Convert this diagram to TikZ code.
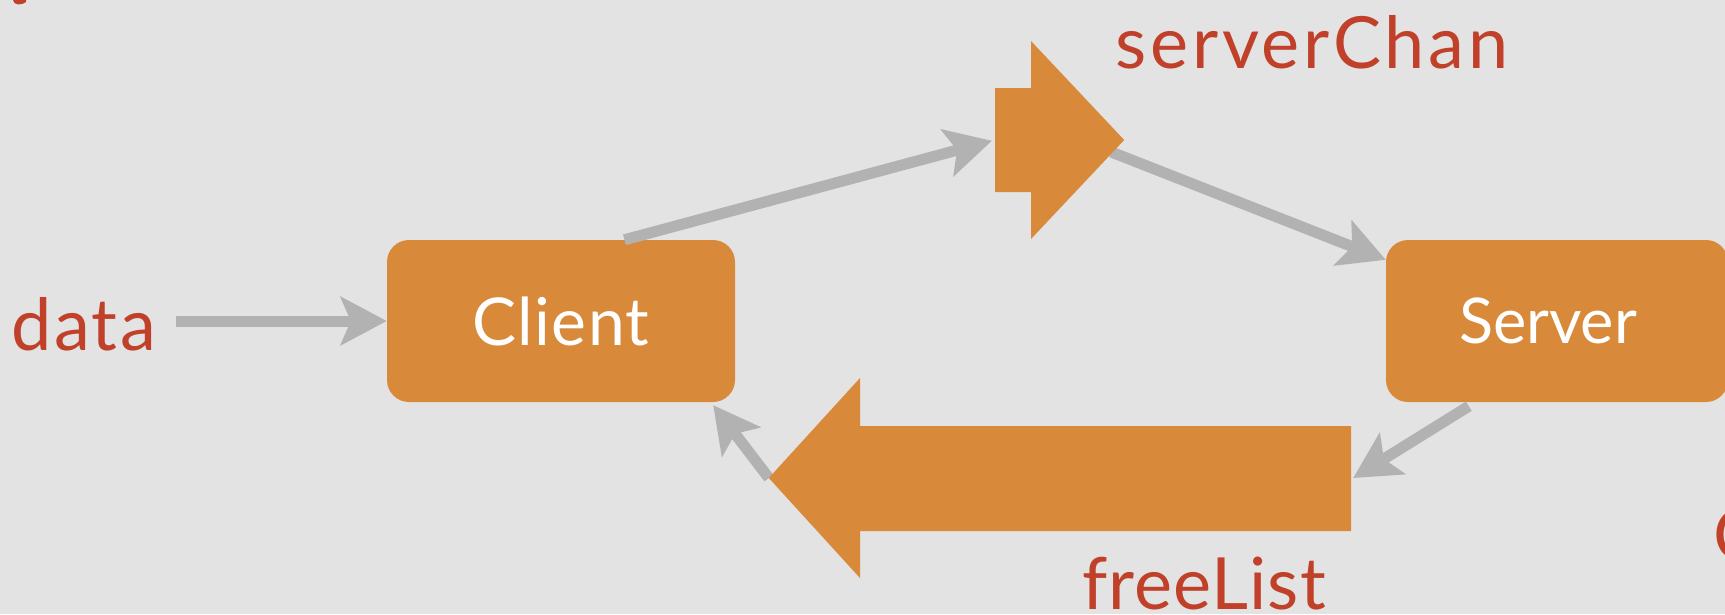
\documentclass[tikz,border=0pt]{standalone}
\usepackage{fontspec}
\setmainfont{Lato}
\usetikzlibrary{arrows.meta,calc}
\definecolor{bgc}{RGB}{227,227,227}
\definecolor{orc}{RGB}{216,137,58}
\definecolor{redc}{RGB}{192,64,42}
\definecolor{greyc}{RGB}{178,178,178}
\begin{document}
\begin{tikzpicture}[x=1pt,y=1pt,
  box/.style={fill=orc, rounded corners=22pt, minimum height=162pt, inner sep=0pt, text=white},
  lbl/.style={text=redc, inner sep=0pt},
  conn/.style={draw=greyc, line width=11pt, -{Stealth[length=46pt,width=48pt,inset=10pt]}},
  shp/.style={fill=orc},
  ghost/.style={inner sep=0pt, draw=none}]
\fill[bgc] (0,0) rectangle (1725,-614);
\useasboundingbox (0,0) rectangle (1725,-614);
% nodes
\node[box, minimum width=348pt, font=\fontsize{66}{66}\selectfont\addfontfeature{LetterSpace=2}] (client) at (561,-321) {\raisebox{-2pt}{Client}};
\node[box, minimum width=342pt, font=\fontsize{63}{63}\selectfont] (server) at (1557,-321) {\hspace*{-18pt}\raisebox{-2pt}{Server}};
\node[lbl, anchor=base west, font=\fontsize{72}{72}\selectfont\addfontfeature{LetterSpace=3.5}] (data) at (11,-350) {data};
\node[lbl, anchor=base, font=\fontsize{72}{72}\selectfont\addfontfeature{LetterSpace=5}] (chanlbl) at (1312,-68) {serverChan};
\node[lbl, anchor=base, font=\fontsize{72}{72}\selectfont\addfontfeature{LetterSpace=1.5}] (freelbl) at (1204,-609) {freeList};
\node[lbl, anchor=base west, font=\fontsize{72}{72}\selectfont] (cpart) at (1713,-560) {C};
\node[ghost, minimum width=129pt, minimum height=198pt] (chan) at (1059.5,-140) {};
\node[ghost, minimum width=582pt, minimum height=200pt] (free) at (1060,-478) {};
% connectors
\draw[conn] ($(client.west)+(-211,0)$) -- (client.west);
\draw[conn, shorten >=3pt] (client.52) -- (chan.west);
\draw[conn] ([xshift=-13pt,yshift=-12pt]chan.east) -- ([yshift=-20pt]server.north west);
\draw[conn] ([xshift=83pt,yshift=-4pt]server.south west) -- ([xshift=2pt]free.east);
\draw[conn] (free.west) -- ([xshift=-22pt,yshift=-3pt]client.south east);
% orange arrow shapes
\fill[shp] (995,-88) -- (1031,-88) -- (1031,-41) -- (chan.east) -- (1031,-239) -- (1031,-192) -- (995,-192) -- cycle;
\fill[shp] (1351,-426) -- (860,-426) -- (860,-378) -- (free.west) -- (860,-578) -- (860,-531) -- (1351,-531) -- cycle;
% partial mark top left
\fill[redc] (13,0) .. controls (14,-5) and (20,-6) .. (26,-2) -- (26,0) -- cycle;
\end{tikzpicture}
\end{document}
